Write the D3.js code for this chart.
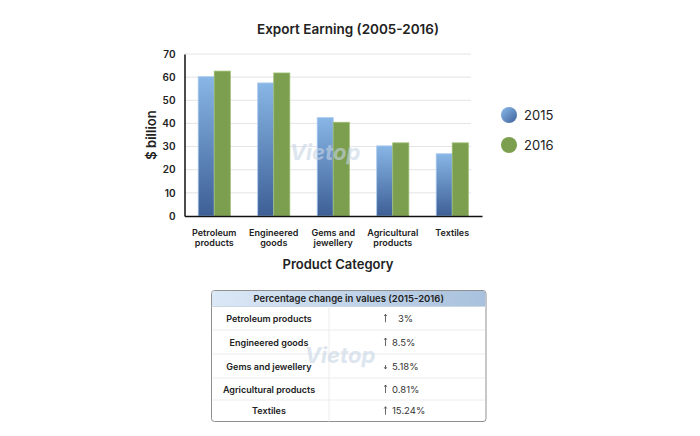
<!DOCTYPE html>
<html><head><meta charset="utf-8">
<script src="https://cdn.jsdelivr.net/npm/d3@7"></script>
<style>body{margin:0;background:#fff;font-family:Inter,"Noto Sans",sans-serif;}</style>
</head><body>
<svg id="c" width="700" height="436"></svg>
<script>
const categories = [["Petroleum","products"],["Engineered","goods"],["Gems and","jewellery"],["Agricultural","products"],["Textiles"]];
const values2015 = [60.2, 57.5, 42.5, 30.3, 26.9];
const values2016 = [62.6, 61.8, 40.5, 31.6, 31.6];
const years = ["2015","2016"];
const yTicks = [0,10,20,30,40,50,60,70];
const tableRows = ["Petroleum products","Engineered goods","Gems and jewellery","Agricultural products","Textiles"];
const tableChanges = ["3%","8.5%","5.18%","0.81%","15.24%"];
const tableDir = ["up","up","down","up","up"];

(function(){
const svg = d3.select("#c");
const defs = svg.append("defs");
const gb = defs.append("linearGradient").attr("id","gb").attr("x1",0).attr("y1",0).attr("x2",0).attr("y2",1);
gb.append("stop").attr("offset","0%").attr("stop-color","#88b6e6");
gb.append("stop").attr("offset","100%").attr("stop-color","#3d5f96");
const gl = defs.append("linearGradient").attr("id","gl").attr("x1",0).attr("y1",0).attr("x2",1).attr("y2",1);
gl.append("stop").attr("offset","0%").attr("stop-color","#8cbbea");
gl.append("stop").attr("offset","100%").attr("stop-color","#3f629b");
const gh = defs.append("linearGradient").attr("id","gh").attr("x1",0).attr("y1",0).attr("x2",1).attr("y2",0);
gh.append("stop").attr("offset","0%").attr("stop-color","#dbe8f6");
gh.append("stop").attr("offset","100%").attr("stop-color","#a9c1dd");

const pLeft=184.5, pRight=482, pTop=54, pBottom=216;
const x = d3.scaleBand().domain(d3.range(categories.length)).range([pLeft,pRight]).paddingInner(0.46).paddingOuter(0.23);
const x1 = d3.scaleBand().domain(years).range([0,x.bandwidth()]);
const y = d3.scaleLinear().domain([0,70]).range([pBottom,pTop]);

svg.append("text").attr("x",348).attr("y",34).attr("text-anchor","middle")
  .attr("font-size",13.5).attr("font-weight",600).attr("fill","#222").text("Export Earning (2005-2016)");

svg.append("g").selectAll("line").data(yTicks.filter(d=>d>0)).join("line")
  .attr("x1",pLeft).attr("x2",471).attr("y1",d=>y(d)).attr("y2",d=>y(d))
  .attr("stroke","#e4e4e4").attr("stroke-width",1);

const ya = svg.append("g").attr("transform",`translate(${pLeft},0)`)
  .call(d3.axisLeft(y).tickValues(yTicks).tickSize(0).tickPadding(9));
ya.select(".domain").attr("stroke","#111").attr("stroke-width",1.5);
ya.selectAll("text").attr("font-size",10).attr("font-weight",600).attr("fill","#222").attr("font-family","Inter,sans-serif");

const g = svg.append("g");
categories.forEach((c,i)=>{
  [values2015[i], values2016[i]].forEach((v,j)=>{
    g.append("rect").attr("x",x(i)+x1(years[j])).attr("y",y(v))
      .attr("width",x1.bandwidth()).attr("height",y(0)-y(v))
      .attr("fill", j===0?"url(#gb)":"#7b9f4f")
      .attr("stroke", j===0?"#a9cbef":"#9bbb70").attr("stroke-width",0.8);
  });
});

const xa = svg.append("g").attr("transform",`translate(0,${pBottom})`)
  .call(d3.axisBottom(x).tickSize(0).tickFormat(""));
xa.select(".domain").attr("stroke","#111").attr("stroke-width",1.5);

categories.forEach((c,i)=>{
  const t = svg.append("text").attr("text-anchor","middle").attr("font-size",9).attr("font-weight",600).attr("fill","#222");
  c.forEach((line,k)=>t.append("tspan").attr("x",x(i)+x.bandwidth()/2).attr("y",236+k*10).text(line));
});

svg.append("text").attr("x",338).attr("y",269).attr("text-anchor","middle")
  .attr("font-size",13).attr("font-weight",600).attr("fill","#222").text("Product Category");
svg.append("text").attr("transform","translate(156,135) rotate(-90)").attr("text-anchor","middle")
  .attr("font-size",13).attr("font-weight",600).attr("fill","#222").text("$ billion");

years.forEach((yr,j)=>{
  svg.append("circle").attr("cx",509).attr("cy",115+j*30).attr("r",8)
    .attr("fill", j===0?"url(#gl)":"#7b9f4f");
  svg.append("text").attr("x",524).attr("y",120+j*30).attr("font-size",13).attr("fill","#222").text(yr);
});

svg.append("text").attr("x",325).attr("y",160).attr("text-anchor","middle").attr("font-size",22)
  .attr("font-style","italic").attr("font-weight",700).attr("fill","#c8d4e6").attr("opacity",0.6).text("Vietop");

const tx=211.5, tw=274.5, ty=290.5, th=131, hh=16.5;
const rowEdges=[306.5,330,354,378,400,421.5];
svg.append("rect").attr("x",tx).attr("y",ty).attr("width",tw).attr("height",th).attr("rx",3)
  .attr("fill","#fff").attr("stroke","#8f8f8f").attr("stroke-width",1);
svg.append("path").attr("d",`M${tx+0.5},${ty+hh} V${ty+3} Q${tx+0.5},${ty+0.5} ${tx+3},${ty+0.5} H${tx+tw-3} Q${tx+tw-0.5},${ty+0.5} ${tx+tw-0.5},${ty+3} V${ty+hh} Z`)
  .attr("fill","url(#gh)");
svg.append("line").attr("x1",tx).attr("x2",tx+tw).attr("y1",306.5).attr("y2",306.5).attr("stroke","#ccd6e2");
svg.append("text").attr("x",tx+tw/2).attr("y",302).attr("text-anchor","middle").attr("font-size",9.5)
  .attr("font-weight",600).attr("fill","#222").text("Percentage change in values (2015-2016)");
svg.append("line").attr("x1",329).attr("x2",329).attr("y1",306.5).attr("y2",421.5).attr("stroke","#ececec");
for(let k=1;k<rowEdges.length-1;k++){
  svg.append("line").attr("x1",tx+1).attr("x2",tx+tw-1).attr("y1",rowEdges[k]).attr("y2",rowEdges[k]).attr("stroke","#ececec");
}
tableRows.forEach((r,i)=>{
  const cy=(rowEdges[i]+rowEdges[i+1])/2;
  svg.append("text").attr("x",269).attr("y",cy+3.5).attr("text-anchor","middle").attr("font-size",9)
    .attr("font-weight",600).attr("fill","#222").text(r);
  // thin arrow drawn as path
  const ax=385.5, up=tableDir[i]==="up";
  const y0 = up ? cy+4 : cy-1, y1 = up ? cy-4 : cy+3;
  svg.append("line").attr("x1",ax).attr("x2",ax).attr("y1",y0).attr("y2",y1).attr("stroke","#444").attr("stroke-width",0.8);
  const d = up ? `M${ax-1.3},${y1+1.8} L${ax},${y1} L${ax+1.3},${y1+1.8}` : `M${ax-1.3},${y1-1.8} L${ax},${y1} L${ax+1.3},${y1-1.8}`;
  svg.append("path").attr("d",d).attr("fill","none").attr("stroke","#444").attr("stroke-width",0.8);
  svg.append("text").attr("x",i===0?398:392).attr("y",cy+3.5).attr("font-size",9.5)
    .attr("fill","#333").text(tableChanges[i]);
});
svg.append("text").attr("x",340).attr("y",363).attr("text-anchor","middle").attr("font-size",22)
  .attr("font-style","italic").attr("font-weight",700).attr("fill","#c8d4e6").attr("opacity",0.6).text("Vietop");
})();
</script>
</body></html>
